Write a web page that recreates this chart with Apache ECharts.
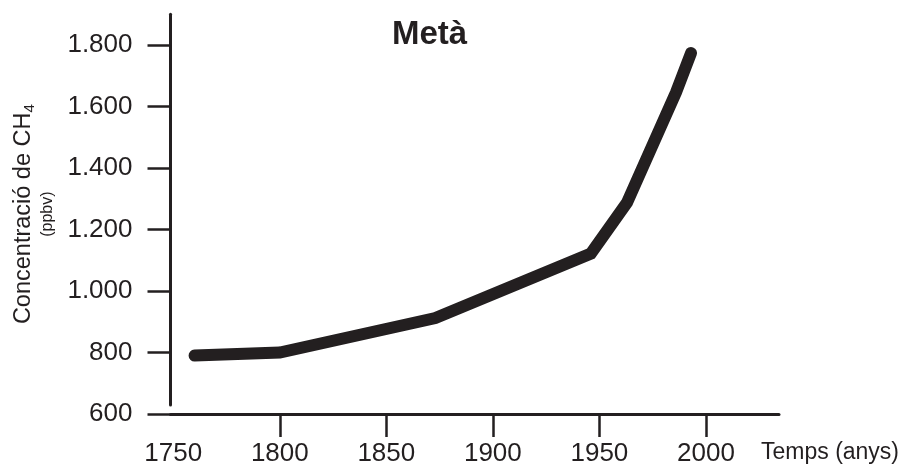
<!DOCTYPE html>
<html>
<head>
<meta charset="utf-8">
<script src="https://cdn.jsdelivr.net/npm/echarts@6/dist/echarts.min.js"></script>
<style>
html,body{margin:0;padding:0;background:#fff;}
#c{width:900px;height:469px;}
</style>
</head>
<body>
<div id="c"></div>
<script>
// Data
const years = [1760, 1800, 1873, 1946, 1963, 1986, 1993];
const methane = [790, 800, 912, 1122, 1288, 1647, 1774];
const xTickValues = [1800, 1850, 1900, 1950, 2000];
const xLabelValues = [1750, 1800, 1850, 1900, 1950, 2000];
const yTickValues = [600, 800, 1000, 1200, 1400, 1600, 1800];

const INK = '#231f20';
const FONT = '"Liberation Sans", Arial, Helvetica, sans-serif';

function fmtThousands(v) {
  if (v >= 1000) {
    return Math.floor(v / 1000) + '.' + String(v % 1000).padStart(3, '0');
  }
  return String(v);
}

const chart = echarts.init(document.getElementById('c'));
chart.setOption({
  animation: false,
  backgroundColor: '#ffffff',
  textStyle: { fontFamily: FONT, color: INK },
  title: {
    text: 'Metà',
    left: 392,
    top: 18,
    padding: 0,
    textStyle: { fontFamily: FONT, fontSize: 33, fontWeight: 'bold', color: INK }
  },
  grid: [
    { left: 170.5, right: 121, top: 14.3, bottom: 55, containLabel: false, outerBoundsMode: 'none' },
    { left: 170.5, width: 1, top: 14.3, bottom: 64, containLabel: false, outerBoundsMode: 'none' }
  ],
  xAxis: [
    {
      gridIndex: 0,
      type: 'value',
      min: 1748.7,
      max: 2034.3,
      splitLine: { show: false },
      axisLine: { show: true, lineStyle: { color: INK, width: 3 } },
      axisTick: {
        show: true, inside: false, length: 23,
        customValues: xTickValues,
        lineStyle: { color: INK, width: 2.5 }
      },
      axisLabel: {
        customValues: xLabelValues,
        margin: 27,
        fontSize: 26,
        fontFamily: FONT,
        color: INK,
        formatter: function (v) { return String(v); }
      },
      name: 'Temps (anys)',
      nameLocation: 'end',
      nameGap: -18,
      nameTextStyle: {
        fontFamily: FONT, fontSize: 23, color: INK,
        align: 'left', verticalAlign: 'top',
        lineHeight: 78
      }
    },
    { gridIndex: 1, type: 'value', show: false }
  ],
  yAxis: [
    {
      gridIndex: 0,
      type: 'value',
      min: 600,
      max: 1900,
      splitLine: { show: false },
      axisLine: { show: false },
      axisTick: {
        show: true, inside: false, length: 23,
        customValues: yTickValues,
        lineStyle: { color: INK, width: 2.5 }
      },
      axisLabel: {
        customValues: yTickValues,
        margin: 38,
        fontSize: 26,
        fontFamily: FONT,
        color: INK,
        formatter: function (v) { return fmtThousands(v); }
      },
      name: '{a|Concentració de CH}{s|4}\n{b|(ppbv)}',
      nameLocation: 'middle',
      nameRotate: 90,
      nameGap: 113,
      nameTextStyle: {
        rich: {
          a: { fontFamily: FONT, fontSize: 23.5, lineHeight: 28, color: INK },
          s: { fontFamily: FONT, fontSize: 15, lineHeight: 15, verticalAlign: 'bottom', color: INK },
          b: { fontFamily: FONT, fontSize: 16, lineHeight: 20, color: INK }
        }
      }
    },
    {
      gridIndex: 1,
      type: 'value',
      min: 0,
      max: 1,
      splitLine: { show: false },
      axisLine: { show: true, lineStyle: { color: INK, width: 3 } },
      axisTick: { show: false },
      axisLabel: { show: false }
    }
  ],
  series: [
    {
      type: 'line',
      xAxisIndex: 0,
      yAxisIndex: 0,
      data: years.map((y, i) => [y, methane[i]]),
      showSymbol: false,
      symbol: 'none',
      lineStyle: { color: INK, width: 12, cap: 'round', join: 'miter' }
    }
  ]
});
</script>
</body>
</html>
